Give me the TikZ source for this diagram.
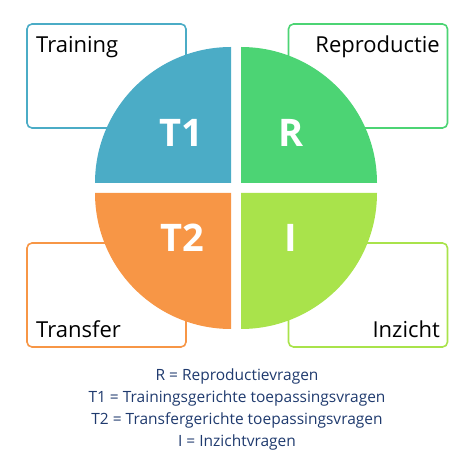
\documentclass[tikz,border=0pt]{standalone}
\usepackage{fontspec}
\setmainfont{Open Sans}
\definecolor{tblue}{HTML}{4BACC6}
\definecolor{rgreen}{HTML}{4CD474}
\definecolor{torange}{HTML}{F79646}
\definecolor{ilime}{HTML}{A9E34B}
\definecolor{legendnavy}{HTML}{1F3A6E}
\tikzset{
  labelbox/.style={draw=#1, fill=white, line width=1.6pt, rounded corners=5pt,
    minimum width=159pt, minimum height=104pt, inner sep=0pt},
  boxtext/.style={inner sep=0pt, font=\fontsize{22}{26}\selectfont, text=black},
  quadtext/.style={inner sep=0pt, font=\fontsize{38}{40}\selectfont\bfseries, text=white},
}
\begin{document}
\begin{tikzpicture}[x=1pt, y=1pt]
    \useasboundingbox (0,0) rectangle (474,474);

    % boxes behind the circle
    \node[labelbox=tblue]   (training) at (106.5,398) {};
    \node[labelbox=rgreen]  (reprod)   at (368,398)   {};
    \node[labelbox=torange] (transfer) at (106.5,179) {};
    \node[labelbox=ilime]   (inzicht)  at (368,179)   {};

    \node[boxtext, anchor=base west] (trainingtxt) at (36,421)  {Training};
    \node[boxtext, anchor=base east] (reprodtxt)   at (440,421) {Reproductie};
    \node[boxtext, anchor=base west] (transfertxt) at (36,136)  {Transfer};
    \node[boxtext, anchor=base east] (inzichttxt)  at (440,136) {Inzicht};

    % four quarters
    \fill[tblue]   (231,291) -- ++(-136,0) arc[start angle=180, end angle=90, radius=136pt] -- cycle;
    \fill[rgreen]  (241,291) -- ++(0,136) arc[start angle=90, end angle=0, radius=136pt] -- cycle;
    \fill[torange] (231,281) -- ++(0,-136) arc[start angle=270, end angle=180, radius=136pt] -- cycle;
    \fill[ilime]   (241,281) -- ++(136,0) arc[start angle=0, end angle=-90, radius=136pt] -- cycle;

    \node[quadtext] (t1) at (181,341)   {T1};
    \node[quadtext] (r)  at (291,341)   {R};
    \node[quadtext] (t2) at (182,236)   {T2};
    \node[quadtext] (i)  at (290.5,236) {I};

    % legend
    \node[anchor=north, align=center, inner sep=0pt, text=legendnavy,
          font=\fontsize{15.5}{22}\selectfont] (legend) at (237,105) {
        R = Reproductievragen\\
        T1 = Trainingsgerichte toepassingsvragen\\
        T2 = Transfergerichte toepassingsvragen\\
        I = Inzichtvragen
    };
\end{tikzpicture}
\end{document}
